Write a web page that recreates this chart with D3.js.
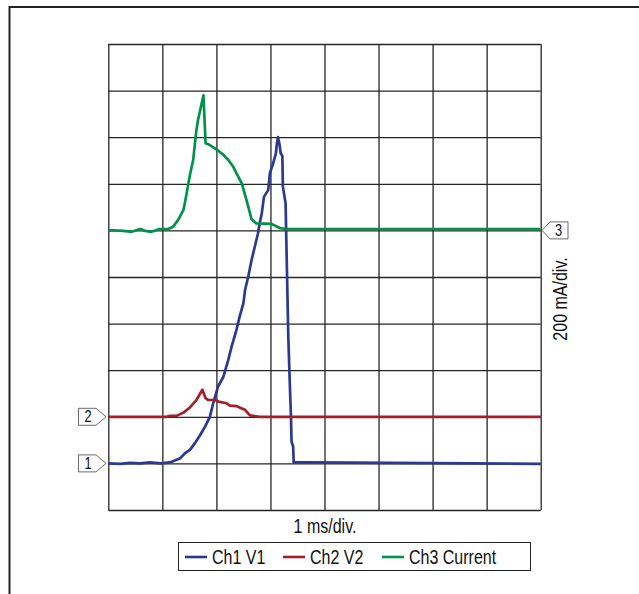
<!DOCTYPE html>
<html>
  <head>
    <meta charset="utf-8">
    <style>
      body { margin: 0; background: #fff; }
      svg { display: block; }
      text { font-family: "Liberation Sans", Arial, sans-serif; fill: #111; }
      .grid line { stroke: #262626; stroke-width: 1.3; }
      .grid path { display: none; }
      .trace { fill: none; stroke-width: 2.7; stroke-linejoin: round; }
    </style>
  </head>
  <body>
    <script src="https://d3js.org/d3.v7.min.js"></script>
    <script>
      // traces in screen divisions: [time div, vertical div]
      const ch1 = [[0,1.00],[0.22,0.99],[0.40,1.01],[0.59,1.00],[0.77,1.02],[0.96,1.00],[1.14,1.02],
        [1.23,1.06],[1.33,1.11],[1.42,1.22],[1.51,1.29],[1.60,1.43],[1.70,1.61],[1.79,1.79],[1.88,2.00],
        [1.94,2.29],[2.03,2.65],[2.13,2.86],[2.22,3.22],[2.28,3.50],[2.37,3.86],[2.43,4.15],[2.50,4.44],
        [2.53,4.72],[2.59,5.01],[2.65,5.36],[2.71,5.65],[2.77,5.94],[2.80,6.15],[2.84,6.37],[2.88,6.72],
        [2.96,6.87],[2.99,7.23],[3.05,7.44],[3.10,7.65],[3.12,7.87],[3.14,8.00],[3.17,7.83],[3.19,7.65],
        [3.22,7.60],[3.23,6.94],[3.28,6.58],[3.30,5.44],[3.33,3.72],[3.36,2.65],[3.38,2.00],[3.39,1.47],
        [3.42,1.36],[3.43,1.02],[3.73,1.02],[8,0.99]]
      const ch2 = [[0,2.00],[1.08,2.00],[1.14,2.02],[1.26,2.02],[1.39,2.09],[1.51,2.20],[1.63,2.36],
        [1.74,2.58],[1.80,2.40],[1.85,2.36],[1.97,2.36],[2.06,2.32],[2.19,2.29],[2.25,2.24],[2.37,2.23],
        [2.47,2.18],[2.53,2.15],[2.62,2.03],[2.68,2.02],[2.80,2.00],[8,2.00]]
      const ch3 = [[0,6.00],[0.09,6.00],[0.28,5.99],[0.43,5.97],[0.59,6.03],[0.68,5.99],[0.80,5.97],
        [0.95,6.03],[1.11,6.03],[1.20,6.08],[1.29,6.22],[1.39,6.44],[1.42,6.61],[1.45,6.80],[1.51,7.19],
        [1.57,7.51],[1.63,8.15],[1.66,8.37],[1.76,8.90],[1.80,7.87],[1.85,7.85],[2.00,7.74],[2.13,7.62],
        [2.22,7.51],[2.31,7.37],[2.37,7.23],[2.47,7.01],[2.53,6.76],[2.59,6.51],[2.65,6.24],[2.74,6.15],
        [3.02,6.14],[3.17,6.05],[3.30,6.03],[8,6.03]]

      const channelNames = ["Ch1 V1", "Ch2 V2", "Ch3 Current"]
      const channelColors = ["#2b3990", "#a31f2a", "#00924a"]
      const markerLevels = [1, 2, 6]
      const xDivisions = d3.range(0, 9)
      const yDivisions = d3.range(0, 11)
      const xLabel = "1 ms/div."
      const yLabel = "200 mA/div."

      const W = 639, H = 594
      const gLeft = 108.3, gRight = 540.7, gTop = 44, gBottom = 510
      const narrow = 0.8   // no condensed font installed, squeeze horizontally

      const svg = d3.select("body").append("svg").attr("width", W).attr("height", H)

      // outer frame
      svg.append("rect")
        .attr("x", 9.5).attr("y", 7).attr("width", 700).attr("height", 700)
        .attr("fill", "none").attr("stroke", "#222").attr("stroke-width", 2)

      const x = d3.scaleLinear().domain([0, 8]).range([gLeft, gRight])
      const y = d3.scaleLinear().domain([0, 10]).range([gBottom, gTop])

      svg.append("g")
        .attr("class", "grid")
        .attr("transform", "translate(0," + gBottom + ")")
        .call(d3.axisBottom(x).tickValues(xDivisions).tickSize(-(gBottom - gTop)).tickFormat(""))
      svg.append("g")
        .attr("class", "grid")
        .attr("transform", "translate(" + gLeft + ",0)")
        .call(d3.axisLeft(y).tickValues(yDivisions).tickSize(-(gRight - gLeft)).tickFormat(""))

      const line = d3.line().x(d => x(d[0])).y(d => y(d[1]))
      const traces = [ch1, ch2, ch3]
      traces.forEach((t, i) => {
        svg.append("path").attr("class", "trace").attr("d", line(t)).attr("stroke", channelColors[i])
      })

      const label = (tx, ty, rot, size, anchor, str) => {
        svg.append("g")
          .attr("transform", "translate(" + tx + "," + ty + ") rotate(" + rot + ") scale(" + narrow + ",1)")
          .append("text").attr("text-anchor", anchor).style("font-size", size + "px").text(str)
      }

      // channel markers
      const markH = 17
      markerLevels.forEach((lv, i) => {
        const cy = y(lv)
        let pts, tx
        if (i < 2) {
          const x0 = 78.5, x1 = 96, tip = 106
          pts = [[x0, cy - markH / 2], [x1, cy - markH / 2], [tip, cy], [x1, cy + markH / 2], [x0, cy + markH / 2]]
          tx = 88
        } else {
          const tip = 542, x1 = 550, x2 = 568
          pts = [[tip, cy], [x1, cy - markH / 2], [x2, cy - markH / 2], [x2, cy + markH / 2], [x1, cy + markH / 2]]
          tx = 558.5
        }
        svg.append("polygon").attr("points", pts.map(p => p.join(",")).join(" "))
          .attr("fill", "#fff").attr("stroke", "#444").attr("stroke-width", 0.8)
        label(tx, cy + 5.5, 0, 16, "middle", i + 1)
      })

      label(325, 533, 0, 20, "middle", xLabel)
      label(567, 299, -90, 20, "middle", yLabel)

      // legend
      svg.append("rect").attr("x", 178.5).attr("y", 542.5).attr("width", 352).attr("height", 28)
        .attr("fill", "#fff").attr("stroke", "#222").attr("stroke-width", 1)
      const legendX = [185, 283, 382]
      channelNames.forEach((n, i) => {
        svg.append("line").attr("x1", legendX[i]).attr("x2", legendX[i] + 22)
          .attr("y1", 557).attr("y2", 557).attr("stroke", channelColors[i]).attr("stroke-width", 2.6)
        label(legendX[i] + 27, 563.5, 0, 20, "start", n)
      })
    </script>
  </body>
</html>
